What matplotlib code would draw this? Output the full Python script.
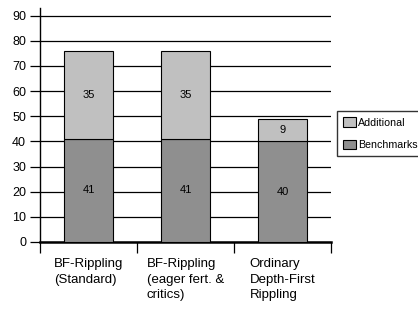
import matplotlib.pyplot as plt
from matplotlib.patches import Patch

plt.rcParams['font.family'] = ['Liberation Sans', 'DejaVu Sans']

categories = ["BF-Rippling\n(Standard)", "BF-Rippling\n(eager fert. &\ncritics)",
              "Ordinary\nDepth-First\nRippling"]
benchmarks = [41, 41, 40]
additional = [35, 35, 9]

light = '#c0c0c0'
dark = '#8f8f8f'

fig = plt.figure(figsize=(4.18, 3.13), dpi=100)
ax = fig.add_axes([40 / 418, 71 / 313, 291 / 418, 234 / 313])

x = [i + 0.5 for i in range(len(categories))]
ax.bar(x, benchmarks, width=0.5, color=dark, edgecolor='black', linewidth=0.8, zorder=3)
ax.bar(x, additional, width=0.5, bottom=benchmarks, color=light, edgecolor='black',
       linewidth=0.8, zorder=3)

# value labels in the middle of each segment
for xi, b, a in zip(x, benchmarks, additional):
    ax.text(xi, b / 2, str(b), ha='center', va='center', fontsize=8, zorder=4)
    ax.text(xi, b + a / 2, str(a), ha='center', va='center', fontsize=8, zorder=4)

ax.set_xlim(0, 3)
ax.set_ylim(0, 93)
ax.set_yticks(range(0, 91, 10))
ax.yaxis.grid(True, color='black', linewidth=0.9, zorder=0)
ax.set_axisbelow(True)
ax.tick_params(axis='y', direction='out', length=7, width=0.9, labelsize=9, pad=3)
ax.set_xticks([0, 1, 2, 3])
ax.set_xticklabels([])
ax.tick_params(axis='x', direction='out', length=8, width=0.9)
for s in ['top', 'right']:
    ax.spines[s].set_visible(False)
ax.spines['left'].set_linewidth(1.0)
ax.spines['bottom'].set_linewidth(1.8)

for xi, lab in zip(x, categories):
    ax.text(xi, -0.068, lab, transform=ax.get_xaxis_transform(), ha='center', va='top',
            multialignment='left', fontsize=9.5, linespacing=1.42)

handles = [Patch(facecolor=light, edgecolor='black', linewidth=0.8, label='Additional'),
           Patch(facecolor=dark, edgecolor='black', linewidth=0.8, label='Benchmarks')]
fig.legend(handles=handles, loc='upper left', bbox_to_anchor=(337 / 418, 1 - 111 / 313),
           fontsize=7.7, frameon=True, fancybox=False, edgecolor='black',
           handlelength=1.2, handleheight=1.0, handletextpad=0.2, borderpad=0.6,
           labelspacing=1.1, borderaxespad=0)

fig.savefig('out.png', dpi=100)
